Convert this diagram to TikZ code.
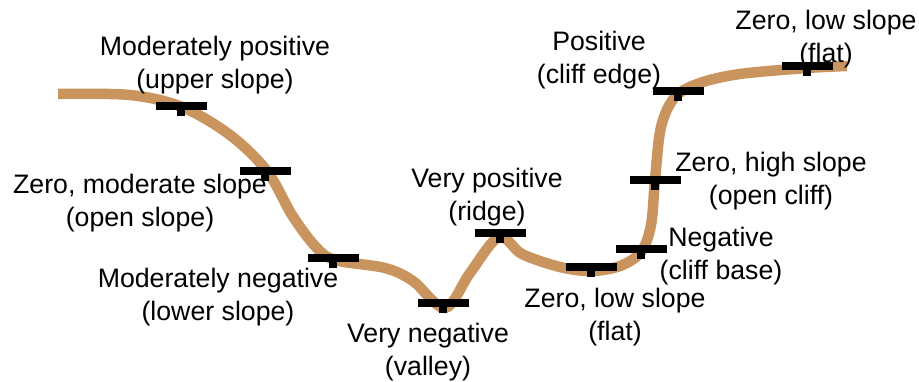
\documentclass[tikz,border=0pt]{standalone}
\usepackage{fontspec}
\setmainfont{Liberation Sans}
\definecolor{terrain}{RGB}{201,148,94}
\begin{document}
\begin{tikzpicture}[x=1pt,y=-1pt,
  lbl/.style={align=center,inner sep=0pt,font=\fontsize{26.7}{32.5}\selectfont},
  tickbar/.style={fill=black,draw=none,inner sep=0pt,minimum width=51pt,minimum height=8.5pt},
  tickstem/.style={fill=black,draw=none,inner sep=0pt,minimum width=8pt,minimum height=6pt,anchor=north},
  ground/.style={draw=terrain,line width=10.5pt,line cap=butt}]
\useasboundingbox (0,0) rectangle (919,381);
% terrain profile
\draw[ground] plot[smooth,tension=0.55] coordinates {
 (58,94) (130,95) (182,107) (230,135) (267,171) (292,215) (315,246) (335,260)
 (385,268) (413,281) (445,308) (470,273) (499,237) (522,254) (560,267) (591,271)
 (620,266) (641,252) (651,225) (655,180) (661,127) (675,97) (700,83) (740,74)
 (807,68) (847,66)};
% ticks
\foreach \n/\x/\y in {t1/181/106, t2/265/171, t3/333/258, t4/443/303, t5/500/233,
  t6/591/267, t7/641/249, t8/655/180, t9/678/91, t10/807/66}{
  \node[tickbar] (\n) at (\x,\y) {};
  \node[tickstem] (\n s) at ([yshift=1pt]\n.south) {};
}
% labels
\node[lbl] (l1) at (215,65) {Moderately positive\\(upper slope)};
\node[lbl] (l2) at (140,203) {Zero, moderate slope\\(open slope)};
\node[lbl] (l3) at (218,297) {Moderately negative\\(lower slope)};
\node[lbl] (l4) at (428,352) {Very negative\\(valley)};
\node[lbl] (l5) at (487,197) {Very positive\\(ridge)};
\node[lbl] (l6) at (615,317) {Zero, low slope\\(flat)};
\node[lbl] (l7) at (721,256) {Negative\\(cliff base)};
\node[lbl] (l8) at (771,181) {Zero, high slope\\(open cliff)};
\node[lbl] (l9) at (599,60) {Positive\\(cliff edge)};
\node[lbl] (l10) at (826,39) {Zero, low slope\\(flat)};
\end{tikzpicture}
\end{document}
